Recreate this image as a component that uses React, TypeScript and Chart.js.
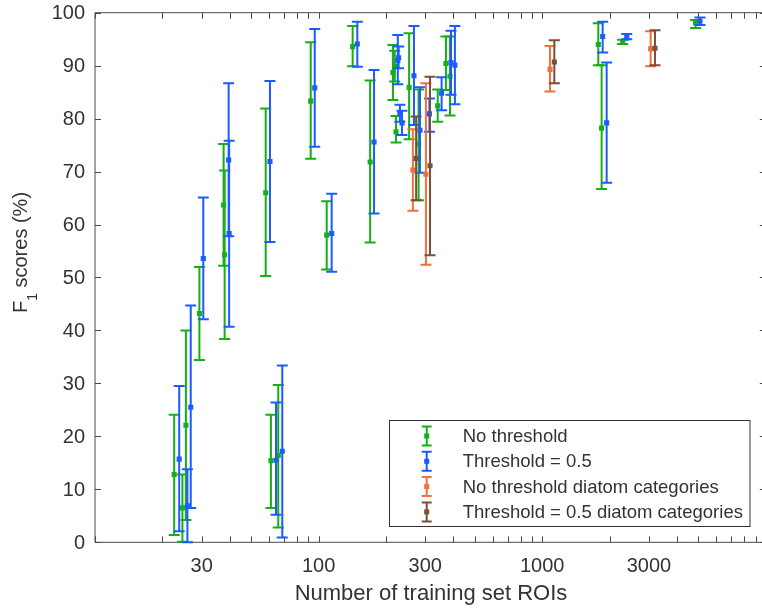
import React, { useEffect, useRef } from 'react';
import { Chart, registerables } from 'chart.js';

Chart.register(...registerables);

// ---------- data ----------
const seriesNames = [
  'No threshold',
  'Threshold = 0.5',
  'No threshold diatom categories',
  'Threshold = 0.5 diatom categories',
];
const seriesColors = ['#15b015', '#1a5cff', '#f0703e', '#7d4e36'];

const noThrX = [22.6, 24.6, 25.5, 29.3, 37.6, 38.0, 58.0, 61.2, 66.0, 92.2, 108.7, 142, 170, 215, 219, 222, 254, 280, 341, 371, 387, 1782, 1844, 2290, 4853];
const noThrY = [12.8, 6.5, 22.1, 43.2, 63.7, 54.3, 66.0, 15.4, 16.4, 83.3, 58.0, 93.6, 71.8, 88.7, 89.9, 77.5, 85.9, 75.2, 82.4, 90.4, 88.0, 94.0, 78.2, 94.5, 98.1];
const noThrLo = [1.4, 0.1, 4.2, 34.4, 52.2, 38.4, 50.3, 6.5, 2.8, 72.4, 51.5, 89.9, 56.6, 83.5, 87.0, 75.5, 76.1, 64.6, 79.4, 85.4, 80.6, 90.1, 66.7, 94.1, 97.1];
const noThrHi = [24.1, 12.8, 40.0, 52.0, 75.2, 70.2, 81.9, 24.1, 29.7, 94.4, 64.4, 97.5, 87.2, 93.9, 92.8, 80.5, 96.1, 85.5, 85.5, 95.5, 95.5, 98.0, 90.1, 94.9, 98.6];

const thrX = [23.8, 25.9, 26.8, 30.5, 39.6, 39.8, 60.6, 64.5, 68.8, 96.1, 114.4, 149, 177, 226, 228, 231, 236, 267, 284, 313, 355, 391, 407, 1864, 1942, 2388, 5078];
const thrY = [15.7, 6.9, 25.5, 53.6, 72.2, 58.3, 71.9, 15.5, 17.2, 85.8, 58.3, 94.1, 75.6, 91.0, 91.5, 81.0, 79.2, 88.1, 77.8, 80.9, 84.8, 90.6, 90.1, 95.5, 79.2, 95.3, 98.4];
const thrLo = [2.1, 0, 6.5, 42.1, 57.8, 40.7, 56.7, 5.2, 0.9, 74.7, 51.1, 89.8, 62.1, 86.5, 89.5, 79.4, 76.9, 78.8, 69.8, 77.5, 81.6, 84.5, 82.7, 92.5, 67.9, 95.0, 97.7];
const thrHi = [29.5, 13.8, 44.7, 65.1, 86.7, 75.8, 87.1, 26.4, 33.4, 96.9, 65.8, 98.3, 89.2, 95.8, 93.6, 82.6, 81.5, 97.5, 85.9, 83.8, 87.8, 96.6, 97.5, 98.3, 90.6, 96.0, 99.1];

const diaNoThrX = [264, 302, 1084, 3055];
const diaNoThrY = [70.3, 69.5, 89.3, 93.2];
const diaNoThrLo = [62.6, 52.4, 85.1, 89.9];
const diaNoThrHi = [78.0, 86.7, 93.7, 96.5];

const diaThrX = [273, 315, 1133, 3194];
const diaThrY = [72.5, 71.1, 90.7, 93.3];
const diaThrLo = [64.6, 54.2, 86.7, 90.1];
const diaThrHi = [80.4, 87.9, 94.8, 96.7];

const xTickLabels = [30, 100, 300, 1000, 3000];
const xMinorTicks = [10, 20, 30, 40, 50, 60, 70, 80, 90, 100, 200, 300, 400, 500, 600, 700, 800, 900, 1000, 2000, 3000, 4000, 5000, 6000, 7000, 8000, 9000, 10000];
const yTicks = [0, 10, 20, 30, 40, 50, 60, 70, 80, 90, 100];

const xTitle = 'Number of training set ROIs';

// ---------- built tables ----------
const seriesX = [noThrX, thrX, diaNoThrX, diaThrX];
const seriesY = [noThrY, thrY, diaNoThrY, diaThrY];
const seriesLo = [noThrLo, thrLo, diaNoThrLo, diaThrLo];
const seriesHi = [noThrHi, thrHi, diaNoThrHi, diaThrHi];

const FONT = '"Liberation Sans", Arial, Helvetica, sans-serif';
const AXIS_COLOR = '#4a4a4a';
const TEXT_COLOR = '#333333';
const CAP = 5.5;

const errorBarPlugin = {
  id: 'errorBars',
  beforeDatasetDraw(chart: any, args: any) {
    const i = args.index;
    const meta = args.meta;
    const ys = chart.scales.y;
    const ctx = chart.ctx;
    ctx.save();
    ctx.strokeStyle = seriesColors[i];
    ctx.lineWidth = 2;
    ctx.lineCap = 'butt';
    seriesLo[i].forEach((lo: number, k: number) => {
      const pt = meta.data[k];
      if (!pt) return;
      const x = pt.x;
      const yl = ys.getPixelForValue(lo);
      const yh = ys.getPixelForValue(seriesHi[i][k]);
      ctx.beginPath();
      ctx.moveTo(x, yl);
      ctx.lineTo(x, yh);
      ctx.moveTo(x - CAP, yl);
      ctx.lineTo(x + CAP, yl);
      ctx.moveTo(x - CAP, yh);
      ctx.lineTo(x + CAP, yh);
      ctx.stroke();
    });
    ctx.restore();
  },
};

const axesPlugin = {
  id: 'matlabAxes',
  beforeDatasetsDraw(chart: any) {
    const { ctx, chartArea: a } = chart;
    const xs = chart.scales.x;
    const ys = chart.scales.y;
    const T = 6;
    ctx.save();
    ctx.strokeStyle = AXIS_COLOR;
    ctx.lineWidth = 1;
    ctx.beginPath();
    ctx.rect(a.left, a.top, a.right - a.left, a.bottom - a.top);
    ctx.stroke();
    ctx.beginPath();
    xMinorTicks.forEach((v) => {
      const x = Math.round(xs.getPixelForValue(v)) + 0.5;
      ctx.moveTo(x, a.bottom);
      ctx.lineTo(x, a.bottom - T);
      ctx.moveTo(x, a.top);
      ctx.lineTo(x, a.top + T);
    });
    yTicks.forEach((v) => {
      const y = Math.round(ys.getPixelForValue(v)) + 0.5;
      ctx.moveTo(a.left, y);
      ctx.lineTo(a.left + T, y);
      ctx.moveTo(a.right, y);
      ctx.lineTo(a.right - T, y);
    });
    ctx.stroke();

    ctx.fillStyle = TEXT_COLOR;
    ctx.font = `20px ${FONT}`;
    ctx.textAlign = 'center';
    ctx.textBaseline = 'alphabetic';
    xTickLabels.forEach((v) => {
      ctx.fillText(String(v), xs.getPixelForValue(v), a.bottom + 29.5);
    });
    ctx.textAlign = 'right';
    ctx.textBaseline = 'middle';
    yTicks.forEach((v) => {
      ctx.fillText(String(v), a.left - 10, ys.getPixelForValue(v) + 1);
    });

    // x title
    ctx.font = `22px ${FONT}`;
    ctx.textAlign = 'center';
    ctx.textBaseline = 'alphabetic';
    ctx.fillText(xTitle, 431, 600);

    // y title with subscript
    ctx.translate(27, 252.5);
    ctx.rotate(-Math.PI / 2);
    ctx.textAlign = 'left';
    const bigF = `20px ${FONT}`;
    const subF = `14px ${FONT}`;
    ctx.font = bigF;
    const wF = ctx.measureText('F').width;
    const rest = ' scores (%)';
    const wR = ctx.measureText(rest).width;
    ctx.font = subF;
    const wS = ctx.measureText('1').width;
    const total = wF + wS + wR;
    let u = -total / 2;
    ctx.font = bigF;
    ctx.fillText('F', u, 0);
    u += wF;
    ctx.font = subF;
    ctx.fillText('1', u, 10);
    u += wS;
    ctx.font = bigF;
    ctx.fillText(rest, u, 0);
    ctx.restore();
  },
};

const legendPlugin = {
  id: 'errLegend',
  afterDatasetsDraw(chart: any) {
    const ctx = chart.ctx;
    ctx.save();
    ctx.fillStyle = '#ffffff';
    ctx.fillRect(389.5, 420.5, 360.5, 106);
    ctx.strokeStyle = '#333333';
    ctx.lineWidth = 1;
    ctx.strokeRect(389.5, 420.5, 360.5, 106);
    ctx.font = `18.5px ${FONT}`;
    ctx.textAlign = 'left';
    ctx.textBaseline = 'middle';
    seriesNames.forEach((name, i) => {
      const y = 436 + i * 25.3;
      const x = 426.7;
      ctx.strokeStyle = seriesColors[i];
      ctx.lineWidth = 2;
      ctx.beginPath();
      ctx.moveTo(x, y - 9.5);
      ctx.lineTo(x, y + 9.5);
      ctx.moveTo(x - 5, y - 9.5);
      ctx.lineTo(x + 5, y - 9.5);
      ctx.moveTo(x - 5, y + 9.5);
      ctx.lineTo(x + 5, y + 9.5);
      ctx.stroke();
      ctx.fillStyle = seriesColors[i];
      ctx.fillRect(x - 2.5, y - 2.5, 5, 5);
      ctx.fillStyle = TEXT_COLOR;
      ctx.fillText(name, 462.7, y + 1);
    });
    ctx.restore();
  },
};

export default function App() {
  const ref = useRef<HTMLCanvasElement | null>(null);

  useEffect(() => {
    if (!ref.current) return;
    const datasets = seriesNames.map((name, i) => ({
      label: name,
      data: seriesX[i].map((x, k) => ({ x, y: seriesY[i][k] })),
      backgroundColor: seriesColors[i],
      borderColor: seriesColors[i],
      pointStyle: 'rect',
      pointRadius: 3.6,
      pointBorderWidth: 0,
      showLine: false,
      order: 3 - i,
    }));
    const chart = new Chart(ref.current, {
      type: 'scatter',
      data: { datasets } as any,
      options: {
        animation: false,
        responsive: false,
        devicePixelRatio: 1,
        layout: { padding: { left: 95, top: 12.7, right: 780 - 765.8, bottom: 611 - 542.3 } },
        scales: {
          x: { type: 'logarithmic', min: 10, max: 10000, display: false },
          y: { type: 'linear', min: 0, max: 100, display: false },
        },
        plugins: { legend: { display: false }, tooltip: { enabled: false } },
        events: [],
      } as any,
      plugins: [axesPlugin, errorBarPlugin, legendPlugin],
    });
    return () => chart.destroy();
  }, []);

  return (
    <div
      style={{
        position: 'fixed',
        left: 0,
        top: 0,
        width: 762,
        height: 611,
        overflow: 'hidden',
        background: '#ffffff',
      }}
    >
      <canvas ref={ref} width={780} height={611} style={{ display: 'block', width: 780, height: 611 }} />
    </div>
  );
}
